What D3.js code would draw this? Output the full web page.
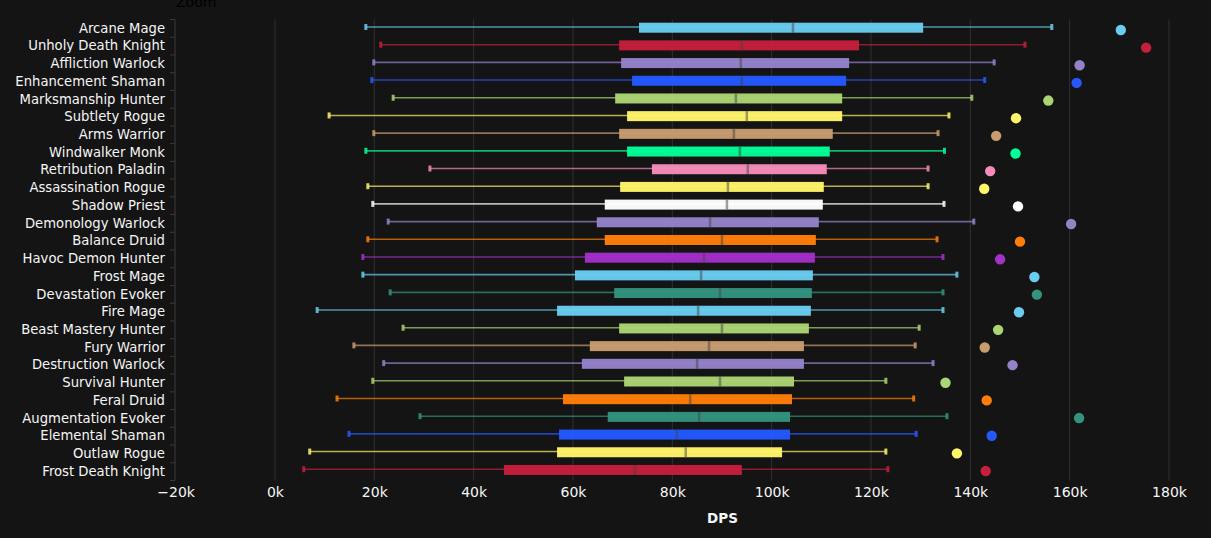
<!DOCTYPE html>
<html><head><meta charset="utf-8">
<script src="https://cdn.jsdelivr.net/npm/d3@7/dist/d3.min.js"></script>
<style>
html,body{margin:0;padding:0;background:#141414;overflow:hidden}
svg{display:block}
text{font-family:"DejaVu Sans",sans-serif}
</style></head><body>
<script>
const categories=["Arcane Mage","Unholy Death Knight","Affliction Warlock","Enhancement Shaman","Marksmanship Hunter","Subtlety Rogue","Arms Warrior","Windwalker Monk","Retribution Paladin","Assassination Rogue","Shadow Priest","Demonology Warlock","Balance Druid","Havoc Demon Hunter","Frost Mage","Devastation Evoker","Fire Mage","Beast Mastery Hunter","Fury Warrior","Destruction Warlock","Survival Hunter","Feral Druid","Augmentation Evoker","Elemental Shaman","Outlaw Rogue","Frost Death Knight"];
const lows=[18.3,21.3,19.9,19.5,23.8,10.9,19.9,18.3,31.2,18.7,19.7,22.8,18.7,17.7,17.7,23.2,8.5,25.8,15.9,21.9,19.7,12.5,29.2,14.9,7.0,5.8];
const q1s=[73.3,69.3,69.7,71.9,68.5,70.9,69.3,70.9,75.9,69.5,66.4,64.8,66.4,62.4,60.4,68.3,56.8,69.3,63.4,61.8,70.3,58.0,67.0,57.2,56.8,46.1];
const medians=[104.3,94.0,93.8,94.0,92.8,95.0,92.4,93.6,95.2,91.2,91.0,87.6,90.0,86.4,85.8,89.6,85.2,90.0,87.4,85.0,89.6,83.6,85.4,80.9,82.7,72.5];
const q3s=[130.5,117.6,115.6,115.0,114.2,114.2,112.3,111.7,111.1,110.5,110.3,109.5,108.9,108.7,108.3,108.1,107.9,107.5,106.5,106.5,104.5,104.1,103.7,103.7,102.1,94.0];
const highs=[156.4,151.0,144.8,142.9,140.3,135.7,133.5,134.8,131.5,131.5,134.7,140.7,133.3,134.5,137.3,134.5,134.5,129.7,128.9,132.5,123.0,128.6,135.3,129.1,123.0,123.4];
const maxima=[170.3,175.4,162.0,161.4,155.7,149.2,145.2,149.1,144.0,142.8,149.6,160.3,150.0,146.0,152.9,153.4,149.8,145.6,142.9,148.5,135.0,143.3,161.9,144.3,137.3,143.1];
const colors=["#69CCF0","#C41F3B","#9482C9","#2459FF","#ABD473","#FFF569","#C79C6E","#00FF96","#F58CBA","#FFF569","#FFFFFF","#9482C9","#FF7D0A","#A330C9","#69CCF0","#33937F","#69CCF0","#ABD473","#C79C6E","#9482C9","#ABD473","#FF7D0A","#33937F","#2459FF","#FFF569","#C41F3B"];
const xTicks=[-20,0,20,40,60,80,100,120,140,160,180];

const W=1211,H=538,bg="#141414",fg="#f6f6f6";
const FONT='"DejaVu Sans",sans-serif';
const svg=d3.select("body").append("svg").attr("width",W).attr("height",H).style("background",bg);
const x=d3.scaleLinear().domain([-20,180]).range([175.6,1169]);
const y=d3.scaleBand().domain(categories).range([19.5,480.5]);
const yBox=d3.scaleBand().domain(categories).range([18.85,478.8]);
const yDot=d3.scaleBand().domain(categories).range([21.18,479.8]);

svg.append("text").attr("x",176).attr("y",7).attr("font-size",14).attr("fill","#000").text("Zoom");

const xAxis=svg.append("g").attr("transform","translate(0,481)")
  .call(d3.axisBottom(x).tickValues(xTicks).tickSize(0).tickPadding(6).tickFormat(d=>(d<0?"\u2212":"")+Math.abs(d)+"k"));
xAxis.select(".domain").remove();
xAxis.selectAll("text").attr("font-size",14).attr("fill",fg).attr("font-family",FONT);

svg.append("g").selectAll("line").data(xTicks.slice(1)).join("line")
  .attr("x1",d=>x(d)).attr("x2",d=>x(d)).attr("y1",19.5).attr("y2",480.5)
  .attr("stroke","#303030").attr("stroke-width",1);

const yAxis=svg.append("g").attr("transform","translate(175,0)")
  .call(d3.axisLeft(y).tickSize(0).tickPadding(10));
yAxis.select(".domain").remove();
yAxis.selectAll("text").attr("font-size",13.2).attr("fill",fg).attr("font-family",FONT).attr("dy","0.32em");
const band=y.step();
svg.append("g").selectAll("line").data(d3.range(categories.length+1)).join("line")
  .attr("x1",170).attr("x2",175).attr("y1",i=>19.5+i*band).attr("y2",i=>19.5+i*band)
  .attr("stroke","#3a3a3a").attr("stroke-width",1);
svg.append("line").attr("x1",175).attr("x2",175).attr("y1",19.5).attr("y2",480.5).attr("stroke","#3a3a3a");

const rows=svg.append("g").selectAll("g").data(categories).join("g")
  .attr("transform",c=>`translate(0,${yBox(c)+yBox.step()/2})`);
rows.append("line").attr("x1",(c,i)=>x(lows[i])).attr("x2",(c,i)=>x(highs[i]))
  .attr("y1",-.7).attr("y2",-.7).attr("stroke",(c,i)=>colors[i]).attr("stroke-opacity",.7).attr("stroke-width",1.6);
[lows,highs].forEach(arr=>rows.append("rect").attr("x",(c,i)=>x(arr[i])-1.5).attr("width",3).attr("y",-3.7).attr("height",6)
  .attr("fill",(c,i)=>colors[i]).attr("fill-opacity",.85));
rows.append("rect").attr("x",(c,i)=>x(q1s[i])).attr("width",(c,i)=>x(q3s[i])-x(q1s[i]))
  .attr("y",-5).attr("height",10).attr("fill",(c,i)=>colors[i]).attr("fill-opacity",.97);
rows.append("line").attr("x1",(c,i)=>x(medians[i])).attr("x2",(c,i)=>x(medians[i]))
  .attr("y1",-5).attr("y2",5).attr("stroke","#444").attr("stroke-opacity",.5).attr("stroke-width",2.5);
svg.append("g").selectAll("circle").data(categories).join("circle")
  .attr("cx",(c,i)=>x(maxima[i])).attr("cy",c=>yDot(c)+yDot.step()/2).attr("r",5.2).attr("fill",(c,i)=>colors[i]);

svg.append("text").attr("x",722.5).attr("y",522.5).attr("text-anchor","middle").attr("font-size",13.5).attr("font-weight","bold").attr("fill",fg).text("DPS");
</script></body></html>
